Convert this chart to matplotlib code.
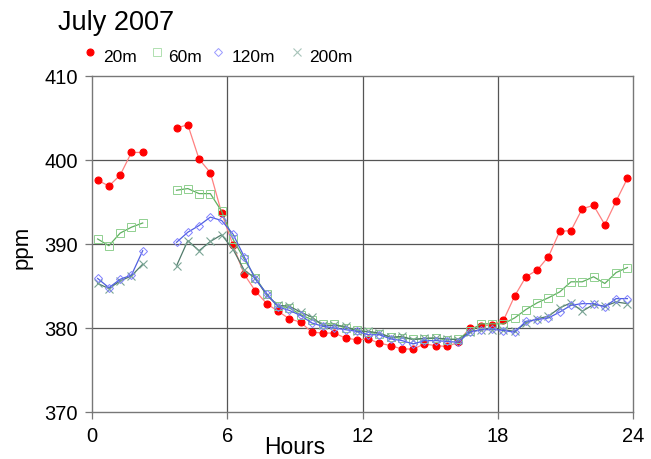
import numpy as np
import matplotlib
matplotlib.use("Agg")
import matplotlib.pyplot as plt
from matplotlib.lines import Line2D

plt.rcParams['font.family'] = ['Liberation Sans', 'DejaVu Sans']

hours = [0.25, 0.75, 1.25, 1.75, 2.25, 2.75, 3.25, 3.75, 4.25, 4.75, 5.25, 5.75,
         6.25, 6.75, 7.25, 7.75, 8.25, 8.75, 9.25, 9.75, 10.25, 10.75, 11.25, 11.75,
         12.25, 12.75, 13.25, 13.75, 14.25, 14.75, 15.25, 15.75, 16.25, 16.75, 17.25, 17.75,
         18.25, 18.75, 19.25, 19.75, 20.25, 20.75, 21.25, 21.75, 22.25, 22.75, 23.25, 23.75]
nan = np.nan
co2_20m = [397.6, 396.9, 398.2, 400.9, 400.9, nan, nan, 403.8, 404.2, 400.1, 398.5, 393.7,
           389.9, 386.4, 384.4, 382.9, 382.0, 381.1, 380.7, 379.5, 379.4, 379.4, 378.8, 378.6,
           378.7, 378.2, 377.9, 377.5, 377.5, 378.1, 377.9, 377.8, 378.3, 380.0, 380.2, 380.4,
           380.9, 383.8, 386.1, 386.9, 388.5, 391.5, 391.6, 394.2, 394.6, 392.3, 395.1, 397.8]
co2_60m = [390.6, 389.8, 391.3, 392.0, 392.5, nan, nan, 396.4, 396.6, 396.0, 396.0, 393.9,
           390.6, 388.2, 386.0, 384.0, 382.6, 382.4, 381.6, 381.0, 380.5, 380.5, 380.0, 379.8,
           379.5, 379.3, 378.9, 378.8, 378.7, 378.7, 378.8, 378.6, 378.7, 379.6, 380.5, 380.5,
           380.5, 381.2, 382.2, 383.0, 383.6, 384.3, 385.5, 385.5, 386.1, 385.3, 386.6, 387.2]
co2_120m = [385.9, 384.8, 385.8, 386.3, 389.2, nan, nan, 390.2, 391.4, 392.2, 393.2, 392.8,
            391.2, 388.5, 385.8, 384.1, 382.5, 382.1, 381.5, 380.6, 380.2, 380.0, 379.8, 379.6,
            379.2, 379.2, 378.7, 378.5, 378.1, 378.5, 378.5, 378.4, 378.3, 379.5, 379.8, 379.9,
            379.7, 379.5, 380.8, 381.0, 381.2, 381.9, 382.7, 382.9, 382.9, 382.5, 383.5, 383.5]
co2_200m = [385.3, 384.7, 385.6, 386.2, 387.6, nan, nan, 387.4, 390.4, 389.2, 390.3, 391.1,
            389.4, 386.9, 385.9, 383.9, 382.7, 382.6, 381.9, 381.3, 380.3, 380.3, 380.2, 379.6,
            379.6, 379.4, 378.9, 379.0, 378.6, 378.8, 378.8, 378.7, 378.6, 379.5, 379.8, 379.8,
            379.8, 379.6, 380.6, 381.1, 381.4, 382.4, 383.0, 382.0, 382.8, 382.6, 383.1, 382.9]

labels = ['20m', '60m', '120m', '200m']
xticks = [0, 6, 12, 18, 24]
yticks = [370, 380, 390, 400, 410]

W, H = 651, 459
fig = plt.figure(figsize=(W / 100, H / 100), dpi=100)
ax = fig.add_axes([92 / W, 1 - 412 / H, 541 / W, 336 / H])

grid_c = '#555555'
for x in [6, 12, 18]:
    ax.axvline(x, color=grid_c, lw=0.9, zorder=0)
for y in [380, 390, 400]:
    ax.axhline(y, color=grid_c, lw=0.9, zorder=0)

styles = [
    dict(line='#ff8080', mfc='#ff0000', mec='#ff0000', marker='o', ms=5.0, mew=0.8, leg='#ff0000'),
    dict(line='#60b060', mfc='none', mec='#90d090', marker='s', ms=5.5, mew=0.7, leg='#b0e0b0'),
    dict(line='#5060e0', mfc='none', mec='#8080ff', marker='D', ms=4.5, mew=0.7, leg='#9a9aff'),
    dict(line='#507a6a', mfc='none', mec='#7aa595', marker='x', ms=6.0, mew=0.8, leg='#a8c4ba'),
]
series = [co2_20m, co2_60m, co2_120m, co2_200m]
order = [0, 1, 3, 2]
for i in order:
    s = styles[i]
    ax.plot(hours, series[i], color=s['line'], lw=0.9, marker=s['marker'], ms=s['ms'],
            mfc=s['mfc'], mec=s['mec'], mew=s['mew'], zorder=3)

ax.set_xlim(0, 24)
ax.set_ylim(370, 410)
ax.set_xticks(xticks)
ax.set_yticks(yticks)
ax.tick_params(axis='both', labelsize=14.5, color='#777777', length=5, width=0.9, direction='out')
ax.tick_params(axis='x', pad=6)
ax.tick_params(axis='y', pad=5)
for sp in ax.spines.values():
    sp.set_color('#777777')
    sp.set_linewidth(1.0)

fig.text(294.5 / W, 1 - 454.5 / H, 'Hours', fontsize=16.5, ha='center', va='baseline')
fig.text(22 / W, 1 - 247 / H, 'ppm', fontsize=16, rotation=90, ha='center', va='center')
fig.text(58 / W, 1 - 29.5 / H, 'July 2007', fontsize=19.5, ha='left', va='baseline')

# legend row
leg_marker_x = [90, 157, 218, 297]
leg_text_x = [103, 168, 232, 309]
for i in range(4):
    s = styles[i]
    fig.add_artist(Line2D([leg_marker_x[i] / W], [1 - 51.5 / H], transform=fig.transFigure,
                          ls='none', marker=s['marker'], ms=s['ms'] * (0.9 if i == 2 else 1.0),
                          mfc=s['mfc'] if s['mfc'] == 'none' else s['leg'],
                          mec=s['leg'], mew=s['mew']))
    fig.text(leg_text_x[i] / W, 1 - 57.5 / H, labels[i], fontsize=12.5, ha='left', va='center')

fig.savefig('out.png', dpi=100)
